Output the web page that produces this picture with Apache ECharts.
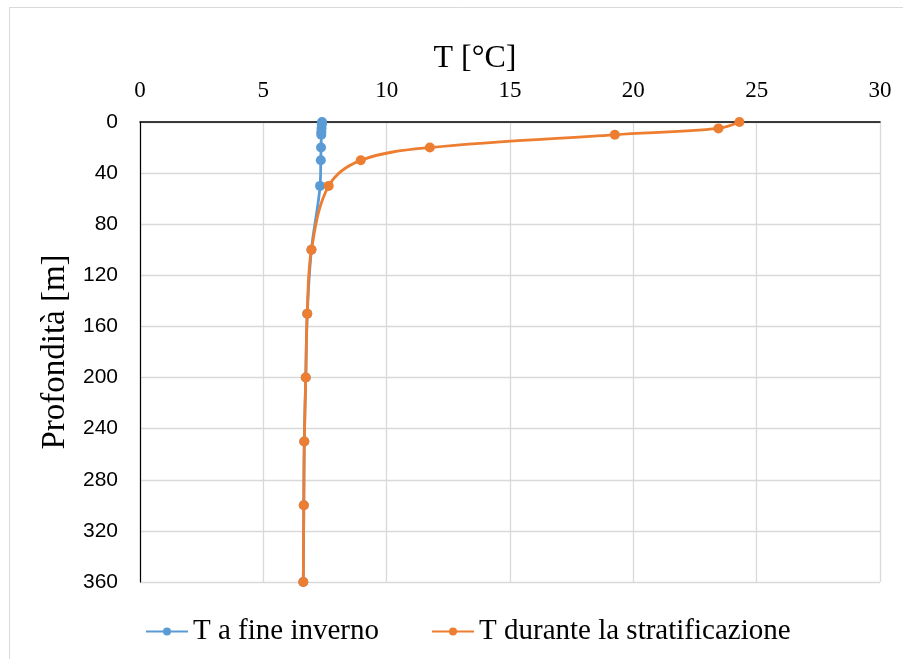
<!DOCTYPE html>
<html>
<head>
<meta charset="utf-8">
<script src="https://cdn.jsdelivr.net/npm/echarts@6/dist/echarts.min.js"></script>
<style>
  html, body { margin: 0; padding: 0; background: #ffffff; }
  #chart { width: 903px; height: 659px; }
</style>
</head>
<body>
<div id="chart"></div>
<script>
// Temperature profiles of the lake (depth in m, temperature in °C)
const seriesNames = ['T a fine inverno', 'T durante la stratificazione'];

const depthWinter = [0, 2, 5, 8, 10, 20, 30, 50, 100, 150, 200, 250, 300, 360];
const tempWinter  = [7.38, 7.37, 7.36, 7.35, 7.35, 7.34, 7.33, 7.3, 6.95, 6.78, 6.72, 6.66, 6.64, 6.62];

const depthSummer = [0, 5, 10, 20, 30, 50, 100, 150, 200, 250, 300, 360];
const tempSummer  = [24.3, 23.45, 19.25, 11.75, 8.95, 7.65, 6.95, 6.78, 6.72, 6.66, 6.64, 6.62];

const tempTicks  = { min: 0, max: 30, step: 5 };
const depthTicks = { min: 0, max: 360, step: 40 };

const toPairs = (t, d) => t.map((v, i) => [v, d[i]]);

const serif = '"Liberation Serif", "Times New Roman", serif';
const sans = '"Liberation Sans", Arial, sans-serif';
const gridColor = '#d9d9d9';

const chart = echarts.init(document.getElementById('chart'), null, { renderer: 'canvas' });

chart.setOption({
  backgroundColor: '#ffffff',
  animation: false,
  graphic: [{
    type: 'rect',
    shape: { x: 9.5, y: 7.5, width: 1000, height: 1000 },
    style: { fill: 'none', stroke: gridColor, lineWidth: 1 },
    silent: true,
    z: -1
  }],
  grid: { left: 140, right: 23, top: 122, bottom: 77 },
  xAxis: {
    type: 'value',
    position: 'top',
    min: tempTicks.min,
    max: tempTicks.max,
    interval: tempTicks.step,
    name: 'T [°C]',
    nameLocation: 'middle',
    nameGap: 46,
    nameTextStyle: { fontFamily: serif, fontSize: 32, color: '#000', padding: [0, 70, 0, 0] },
    axisLine: { show: true, onZero: false, lineStyle: { color: '#000', width: 1.6 } },
    axisTick: { show: false },
    axisLabel: { fontFamily: serif, fontSize: 23, color: '#000', margin: 20 },
    splitLine: { show: true, lineStyle: { color: gridColor, width: 1.3 } }
  },
  yAxis: {
    type: 'value',
    inverse: true,
    min: depthTicks.min,
    max: depthTicks.max,
    interval: depthTicks.step,
    name: 'Profondità [m]',
    nameLocation: 'middle',
    nameGap: 66,
    nameTextStyle: { fontFamily: serif, fontSize: 33, color: '#000' },
    axisLine: { show: true, onZero: false, lineStyle: { color: '#000', width: 1.2 } },
    axisTick: { show: false },
    axisLabel: { fontFamily: sans, fontSize: 21, color: '#000', margin: 22 },
    splitLine: { show: true, lineStyle: { color: gridColor, width: 1.3 } }
  },
  legend: {
    left: 140,
    top: 612,
    itemWidth: 42,
    itemHeight: 10,
    itemGap: 52,
    textStyle: { fontFamily: serif, fontSize: 29, color: '#000' },
    data: seriesNames
  },
  series: [
    {
      name: seriesNames[0],
      type: 'line',
      data: toPairs(tempWinter, depthWinter),
      smooth: 0.35,
      symbol: 'circle',
      symbolSize: 10,
      color: '#5B9BD5',
      lineStyle: { width: 2.8, color: '#5B9BD5' },
      z: 2
    },
    {
      name: seriesNames[1],
      type: 'line',
      data: toPairs(tempSummer, depthSummer),
      smooth: 0.35,
      symbol: 'circle',
      symbolSize: 10,
      color: '#ED7D31',
      lineStyle: { width: 2.8, color: '#ED7D31' },
      z: 3
    }
  ]
});
</script>
</body>
</html>
